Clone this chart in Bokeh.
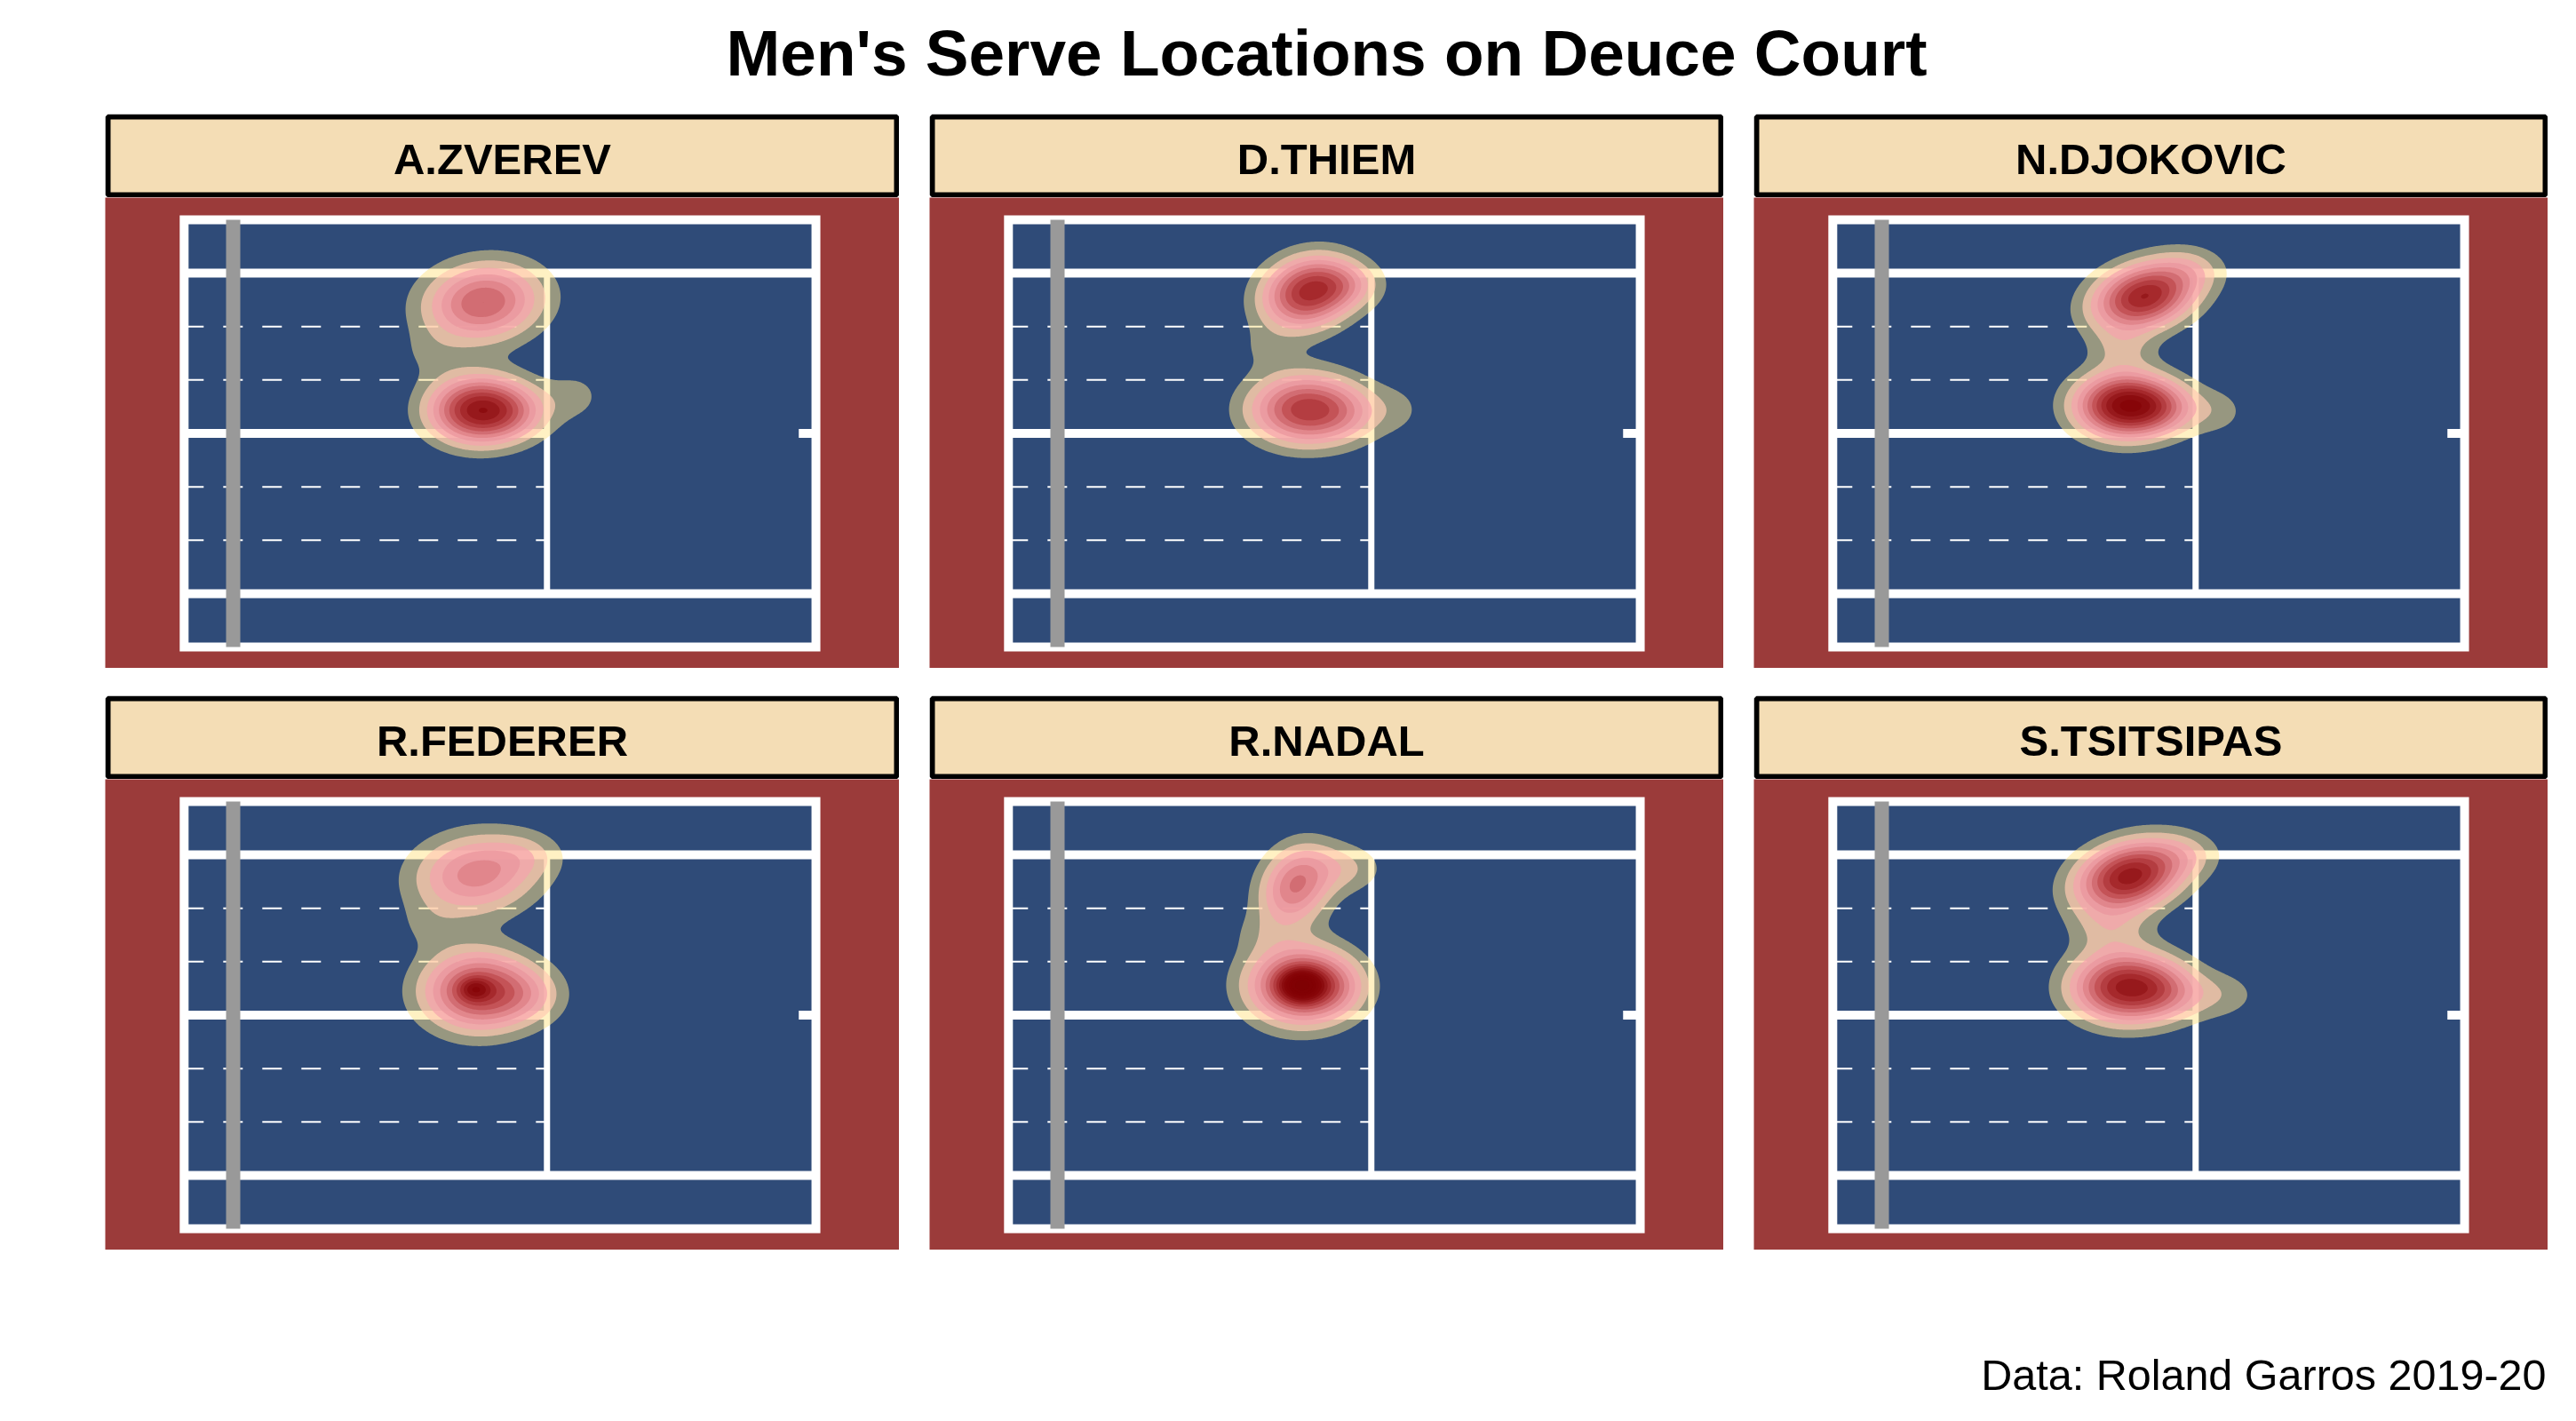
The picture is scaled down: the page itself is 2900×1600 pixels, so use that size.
import numpy as np
from bokeh.plotting import figure
from bokeh.layouts import column, row
from bokeh.models import Range1d, Spacer
from bokeh.core.properties import value
from bokeh.embed import file_html
from bokeh.resources import INLINE

# ---------------- data ----------------
title_text = "Men's Serve Locations on Deuce Court"
caption_text = "Data: Roland Garros 2019-20"
players = ["A.ZVEREV", "D.THIEM", "N.DJOKOVIC", "R.FEDERER", "R.NADAL", "S.TSITSIPAS"]

# serve-location density, described as clusters:
# x = metres from the net, y = metres across the court, peak in contour-level units
blob_player = (["A.ZVEREV"] * 5 + ["D.THIEM"] * 6 + ["N.DJOKOVIC"] * 6 +
               ["R.FEDERER"] * 6 + ["R.NADAL"] * 6 + ["S.TSITSIPAS"] * 6)
blob_x = [5.10, 4.98, 5.75, 7.00, 4.00,
          5.10, 5.90, 5.05, 5.90, 6.95, 4.20,
          5.35, 4.95, 5.75, 6.85, 6.30, 4.90,
          4.95, 6.00, 5.00, 4.93, 6.00, 4.00,
          4.85, 5.85, 4.95, 4.97, 5.60, 4.10,
          5.05, 4.95, 5.80, 6.85, 6.20, 4.65]
blob_y = [8.85, 6.08, 6.05, 6.45, 7.50,
          9.10, 9.30, 6.10, 6.00, 6.10, 7.65,
          9.00, 6.20, 6.15, 6.05, 9.70, 7.65,
          9.10, 9.60, 6.10, 6.15, 6.00, 7.75,
          8.80, 9.25, 6.25, 6.25, 6.20, 7.60,
          9.05, 6.20, 6.10, 6.00, 9.60, 7.70]
blob_sx = [0.80, 0.66, 0.55, 0.45, 0.50,
           0.62, 0.50, 0.75, 0.50, 0.45, 0.50,
           0.70, 0.66, 0.50, 0.45, 0.50, 0.45,
           0.85, 0.50, 0.75, 0.22, 0.55, 0.50,
           0.50, 0.55, 0.72, 0.30, 0.50, 0.45,
           0.72, 0.72, 0.50, 0.60, 0.50, 0.55]
blob_sy = [0.68, 0.57, 0.50, 0.50, 0.45,
           0.62, 0.42, 0.60, 0.50, 0.50, 0.42,
           0.58, 0.55, 0.45, 0.45, 0.40, 0.40,
           0.70, 0.40, 0.68, 0.20, 0.50, 0.45,
           0.70, 0.45, 0.67, 0.28, 0.50, 0.40,
           0.60, 0.60, 0.50, 0.45, 0.40, 0.45]
blob_rho = [0.10, 0.0, 0.0, 0.0, 0.0,
            0.15, 0.0, 0.0, 0.0, 0.0, 0.0,
            0.25, 0.0, 0.0, 0.0, 0.0, 0.0,
            0.10, 0.0, 0.0, 0.0, 0.0, 0.0,
            0.20, 0.0, 0.0, 0.0, 0.0, 0.0,
            0.25, 0.0, 0.0, 0.0, 0.0, 0.0]
blob_peak = [7.0, 10.0, 2.5, 1.2, 0.8,
             9.0, 2.5, 8.5, 1.5, 1.0, 0.8,
             10.0, 11.5, 3.0, 1.3, 1.5, 1.6,
             5.5, 1.2, 8.5, 3.5, 2.0, 0.8,
             6.0, 2.0, 9.0, 7.0, 2.0, 0.7,
             10.5, 10.0, 2.5, 1.6, 1.5, 1.8]

# ---------------- styling ----------------
RED = "#9B3B3A"
BLUE = "#2F4B78"
WHEAT = "#F4DDB5"
NET = "#999999"
FONT = value("Liberation Sans")

n_levels = 20
stop_lv = [1, 2, 3, 4, 5, 6, 7, 8, 9, 10, 11, 12, 20]
stop_rgb = [(255, 228, 136), (255, 202, 178), (245, 163, 173), (233, 148, 156),
            (221, 126, 131), (204, 99, 104), (189, 73, 76), (174, 53, 55),
            (159, 33, 36), (146, 19, 22), (136, 7, 10), (132, 3, 6), (122, 0, 0)]
levels = list(range(1, n_levels + 1))
level_colors = []
level_alpha = []
for lv in levels:
    rgb = [int(round(np.interp(lv, stop_lv, [c[i] for c in stop_rgb]))) for i in range(3)]
    level_colors.append("#%02x%02x%02x" % tuple(rgb))
    level_alpha.append(0.5 if lv == 1 else 0.7)

# court geometry (metres)
L0, BASE, SERV = -1.0, 11.885, 6.40
W, ALLEY = 10.97, 1.37
MID = W / 2
BOX3 = (W / 2 - ALLEY) / 3

PX_X = 55.2
PX_Y = 43.85
PW, SH, CH = 894, 94, 530
x0 = -144 / PX_X
y0 = -24 / PX_Y

gx = np.arange(2.0, 9.5, 0.025)
gy = np.arange(3.5, 11.6, 0.025)
GX, GY = np.meshgrid(gx, gy)


def density(name):
    Z = np.zeros_like(GX)
    for pl, mx, my, sx, sy, r, h in zip(blob_player, blob_x, blob_y, blob_sx, blob_sy, blob_rho, blob_peak):
        if pl != name:
            continue
        dx = (GX - mx) / sx
        dy = (GY - my) / sy
        q = (dx * dx - 2 * r * dx * dy + dy * dy) / (1 - r * r)
        Z += h * np.exp(-0.5 * q)
    return Z


def bare(width, height, xr, yr, **kw):
    f = figure(width=width, height=height, x_range=xr, y_range=yr, output_backend="svg",
               toolbar_location=None, min_border=0, x_axis_location=None,
               y_axis_location=None, outline_line_color=None, **kw)
    f.grid.visible = False
    return f


def strip(name):
    s = bare(PW, SH, Range1d(0, PW), Range1d(0, SH))
    s.quad(left=3, right=PW - 3, bottom=3, top=SH - 3, fill_color=WHEAT, line_color="black", line_width=6)
    s.text(x=[PW / 2], y=[43.5], text=[name], text_align="center", text_baseline="alphabetic",
           text_font=FONT, text_font_style="bold", text_font_size="49px", text_color="black")
    return s


def court(name):
    p = bare(PW, CH, Range1d(x0, x0 + PW / PX_X), Range1d(y0, y0 + CH / PX_Y),
             background_fill_color=RED, border_fill_color=RED)
    p.quad(left=L0, right=BASE, bottom=0, top=W, fill_color=BLUE, line_color="white",
           line_width=10, line_join="miter")
    # dashed zone lines in the service boxes
    for yy in [MID - 2 * BOX3, MID - BOX3, MID + BOX3, MID + 2 * BOX3]:
        p.line([L0, SERV], [yy, yy], line_color="white", line_width=2, line_dash="22 22")
    p.segment(x0=[L0, L0, L0, BASE - 0.35], y0=[ALLEY, W - ALLEY, MID, MID],
              x1=[BASE, BASE, SERV, BASE], y1=[ALLEY, W - ALLEY, MID, MID],
              line_color="white", line_width=10)
    p.segment(x0=[SERV], y0=[ALLEY], x1=[SERV], y1=[W - ALLEY], line_color="white", line_width=7)
    p.segment(x0=[0], y0=[0], x1=[0], y1=[W], line_color=NET, line_width=16)

    Z = density(name)
    zmax = float(Z.max())
    for lv, col, al in zip(levels, level_colors, level_alpha):
        if lv >= zmax:
            break
        p.contour(gx, gy, Z, levels=[lv, zmax + 1.0], fill_color=col, fill_alpha=al,
                  line_color=None)
    return p


facets = [column(strip(n), court(n), spacing=0) for n in players]

tfig = bare(2900, 128, Range1d(0, 2900), Range1d(0, 128))
tfig.text(x=[1493], y=[69], text=[title_text], text_align="center", text_baseline="alphabetic",
          text_font=FONT, text_font_style="bold", text_font_size="73px", text_color="black")

cfig = bare(2900, 193, Range1d(0, 2900), Range1d(0, 193))
cfig.text(x=[2866], y=[53], text=[caption_text], text_align="right", text_baseline="alphabetic",
          text_font=FONT, text_font_size="48.5px", text_color="black")

row1 = row(Spacer(width=118, height=624), facets[0], Spacer(width=34, height=624), facets[1],
           Spacer(width=34, height=624), facets[2], spacing=0)
row2 = row(Spacer(width=118, height=624), facets[3], Spacer(width=34, height=624), facets[4],
           Spacer(width=34, height=624), facets[5], spacing=0)
layout = column(tfig, row1, Spacer(width=2900, height=31), row2, cfig, spacing=0)

open("out.html", "w").write(file_html(layout, INLINE))
